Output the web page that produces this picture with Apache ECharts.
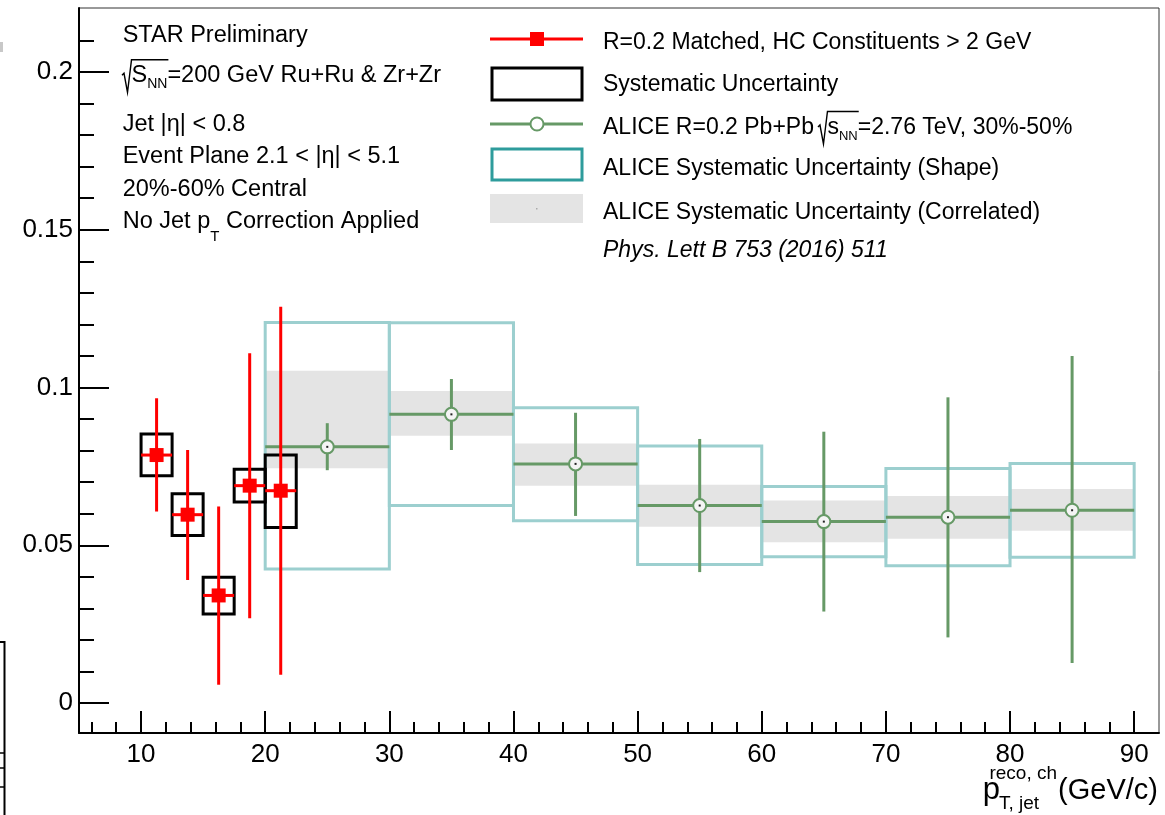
<!DOCTYPE html>
<html>
<head>
<meta charset="utf-8">
<script src="https://cdn.jsdelivr.net/npm/echarts@6/dist/echarts.min.js"></script>
<style>html,body{margin:0;padding:0;background:#fff}#c{width:1165px;height:815px}</style>
</head>
<body>
<div id="c"></div>
<script>
// ---------------- data ----------------
const starX       = [11.25, 13.75, 16.25, 18.75, 21.25];
const starXLo     = [10.0, 12.5, 15.0, 17.5, 20.0];
const starXHi     = [12.5, 15.0, 17.5, 20.0, 22.5];
const starY       = [0.0786, 0.0597, 0.0341, 0.0689, 0.0673];
const starStatLo  = [0.0607, 0.0390, 0.0058, 0.0269, 0.0090];
const starStatHi  = [0.0966, 0.0802, 0.0623, 0.1109, 0.1256];
const starSysLo   = [0.0720, 0.0531, 0.0282, 0.0637, 0.0556];
const starSysHi   = [0.0853, 0.0663, 0.0399, 0.0741, 0.0786];

const aliceBinLo   = [20, 30, 40, 50, 60, 70, 80];
const aliceBinHi   = [30, 40, 50, 60, 70, 80, 90];
const aliceX       = [25, 35, 45, 55, 65, 75, 85];
const aliceY       = [0.0812, 0.0915, 0.0758, 0.0626, 0.0575, 0.0589, 0.0611];
const aliceStatLo  = [0.0738, 0.0802, 0.0593, 0.0415, 0.0290, 0.0208, 0.0127];
const aliceStatHi  = [0.0887, 0.1027, 0.0920, 0.0837, 0.0860, 0.0969, 0.1100];
const aliceShapeLo = [0.0425, 0.0626, 0.0578, 0.0439, 0.0464, 0.0435, 0.0462];
const aliceShapeHi = [0.1206, 0.1205, 0.0936, 0.0815, 0.0686, 0.0743, 0.0759];
const aliceCorrLo  = [0.0744, 0.0847, 0.0689, 0.0559, 0.0510, 0.0521, 0.0546];
const aliceCorrHi  = [0.1053, 0.0989, 0.0823, 0.0692, 0.0642, 0.0656, 0.0678];

const xMajorTicks = [10, 20, 30, 40, 50, 60, 70, 80, 90];
const xMinorTicks = [6, 8, 12, 14, 16, 18, 22, 24, 26, 28, 32, 34, 36, 38, 42, 44, 46, 48,
                     52, 54, 56, 58, 62, 64, 66, 68, 72, 74, 76, 78, 82, 84, 86, 88];
const yMajorTicks = [0, 0.05, 0.1, 0.15, 0.2];
const yMinorTicks = [0.01, 0.02, 0.03, 0.04, 0.06, 0.07, 0.08, 0.09, 0.11, 0.12, 0.13, 0.14,
                     0.16, 0.17, 0.18, 0.19, 0.21];

// ---------------- styles ----------------
const FF = '"Liberation Sans", Arial, Helvetica, sans-serif';
const RED = '#ff0000', GREEN = '#669966', TEAL = '#9ccfcf', TEAL_LEG = '#2e9c9c', GRAY = '#e4e4e4';

const chart = echarts.init(document.getElementById('c'), null, {renderer: 'canvas'});

const ctx = document.createElement('canvas').getContext('2d');
function measure(t, size, style) {
  ctx.font = (style ? style + ' ' : '') + size + 'px ' + FF;
  return ctx.measureText(t).width;
}
function txt(x, baseline, t, size, opts) {
  opts = opts || {};
  return {
    type: 'text', x: x, y: baseline - 0.31 * size, z: 100,
    style: {text: t, fontSize: size, fontFamily: FF, fontStyle: opts.style || 'normal',
            fill: '#000', align: opts.align || 'left', verticalAlign: 'middle'}
  };
}
// parts: {t, s, dy, style} | {gap} | {radical: true, cover: [...]}
function run(x, baseline, parts, out) {
  let cx = x;
  parts.forEach(p => {
    if (p.gap) { cx += p.gap; return; }
    if (p.radical) {
      let w = 0;
      p.cover.forEach(q => { w += measure(q.t, q.s, q.style); });
      const rw = 9.5;
      out.push({type: 'polyline', z: 100, shape: {points: [
        [cx, baseline - 8], [cx + 2, baseline - 10], [cx + 5.5, baseline + 9],
        [cx + rw, baseline - 23.5], [cx + rw + w + 1, baseline - 23.5]]},
        style: {stroke: '#000', lineWidth: 1.4, fill: null}});
      cx += rw;
      return;
    }
    out.push(txt(cx, baseline + (p.dy || 0), p.t, p.s, {style: p.style}));
    cx += measure(p.t, p.s, p.style);
  });
  return cx;
}

const g = [];
// left column annotations
const LS = 23.5;
run(122.7, 43, [{t: 'STAR Preliminary', s: LS}], g);
const sPart = {t: 'S', s: LS}, nnPart = {t: 'NN', s: 14, dy: 5};
run(122, 83.3, [{radical: true, cover: [sPart, nnPart]}, sPart, nnPart,
                {t: '=200 GeV Ru+Ru & Zr+Zr', s: LS}], g);
run(122.7, 131.5, [{t: 'Jet |η| < 0.8', s: LS}], g);
run(122.7, 163.5, [{t: 'Event Plane 2.1 < |η| < 5.1', s: LS}], g);
run(122.7, 196.5, [{t: '20%-60% Central', s: LS}], g);
run(122.7, 229.2, [{t: 'No Jet p', s: LS}, {t: 'T', s: 15, dy: 12}, {t: ' Correction Applied', s: LS}], g);

// legend
const LX = 603;
run(LX, 50, [{t: 'R=0.2 Matched, HC Constituents > 2 GeV', s: 23}], g);
run(LX, 92, [{t: 'Systematic Uncertainty', s: 23}], g);
const sp2 = {t: 's', s: 23}, nn2 = {t: 'NN', s: 13, dy: 5};
run(LX, 135, [{t: 'ALICE R=0.2 Pb+Pb', s: 23}, {gap: 4}, {radical: true, cover: [sp2, nn2]}, sp2, nn2,
              {t: '=2.76 TeV, 30%-50%', s: 23}], g);
run(LX, 175.5, [{t: 'ALICE Systematic Uncertainty (Shape)', s: 23}], g);
run(LX, 219.5, [{t: 'ALICE Systematic Uncertainty (Correlated)', s: 23}], g);
run(LX, 258, [{t: 'Phys. Lett B 753 (2016) 511', s: 23, style: 'italic'}], g);

// legend symbols
g.push({type: 'line', z: 100, shape: {x1: 490, y1: 39, x2: 583, y2: 39}, style: {stroke: RED, lineWidth: 3}});
g.push({type: 'rect', z: 101, shape: {x: 530, y: 32, width: 14, height: 14}, style: {fill: RED}});
g.push({type: 'rect', z: 100, shape: {x: 492, y: 68, width: 90, height: 32}, style: {stroke: '#000', lineWidth: 3, fill: null}});
g.push({type: 'line', z: 100, shape: {x1: 490, y1: 124, x2: 583, y2: 124}, style: {stroke: GREEN, lineWidth: 3}});
g.push({type: 'circle', z: 101, shape: {cx: 537, cy: 124, r: 6.5}, style: {stroke: GREEN, lineWidth: 2, fill: '#fff'}});
g.push({type: 'rect', z: 100, shape: {x: 492, y: 149, width: 90, height: 31}, style: {stroke: TEAL_LEG, lineWidth: 3, fill: null}});
g.push({type: 'rect', z: 100, shape: {x: 490, y: 194, width: 93, height: 29}, style: {fill: GRAY}});
g.push({type: 'rect', z: 101, shape: {x: 536, y: 208, width: 1.5, height: 1.5}, style: {fill: '#aaa'}});

// x-axis title
g.push(txt(1158, 800, '(GeV/c)', 29, {align: 'right'}));
g.push(txt(1000, 800, 'p', 31, {align: 'right'}));
g.push(txt(1057, 780, 'reco, ch', 19, {align: 'right'}));
g.push(txt(999, 810, 'T, jet', 19));

// cropped neighbour artifacts at the left border
g.push({type: 'rect', z: 100, shape: {x: 0, y: 42, width: 3, height: 10}, style: {fill: '#c8c8c8'}});
g.push({type: 'polyline', z: 100, shape: {points: [[0, 642], [4.5, 642], [4.5, 815]]}, style: {stroke: '#000', lineWidth: 2, fill: null}});
[753, 768, 787].forEach(y => g.push({type: 'line', z: 100, shape: {x1: 0, y1: y, x2: 4.5, y2: y}, style: {stroke: '#000', lineWidth: 1.5}}));

// ---------------- series data ----------------
const corrData  = aliceX.map((x, i) => [aliceBinLo[i], aliceBinHi[i], aliceCorrLo[i], aliceCorrHi[i]]);
const shapeData = aliceX.map((x, i) => [aliceBinLo[i], aliceBinHi[i], aliceShapeLo[i], aliceShapeHi[i]]);
const aliceData = aliceX.map((x, i) => [x, aliceY[i], aliceBinLo[i], aliceBinHi[i], aliceStatLo[i], aliceStatHi[i]]);
const starSysData = starX.map((x, i) => [starXLo[i], starXHi[i], starSysLo[i], starSysHi[i]]);
const starData  = starX.map((x, i) => [x, starY[i], starXLo[i], starXHi[i], starStatLo[i], starStatHi[i]]);

function boxRender(fill, stroke, lw) {
  return function (params, api) {
    const p1 = api.coord([api.value(0), api.value(3)]);
    const p2 = api.coord([api.value(1), api.value(2)]);
    return {type: 'rect', shape: {x: p1[0], y: p1[1], width: p2[0] - p1[0], height: p2[1] - p1[1]},
            style: {fill: fill, stroke: stroke, lineWidth: lw}};
  };
}
function pointRender(color, marker) {
  return function (params, api) {
    const c = api.coord([api.value(0), api.value(1)]);
    const xl = api.coord([api.value(2), api.value(1)])[0];
    const xh = api.coord([api.value(3), api.value(1)])[0];
    const yl = api.coord([api.value(0), api.value(4)])[1];
    const yh = api.coord([api.value(0), api.value(5)])[1];
    const ch = [
      {type: 'line', shape: {x1: xl, y1: c[1], x2: xh, y2: c[1]}, style: {stroke: color, lineWidth: 3}},
      {type: 'line', shape: {x1: c[0], y1: yl, x2: c[0], y2: yh}, style: {stroke: color, lineWidth: 3}}
    ];
    if (marker === 'square') {
      ch.push({type: 'rect', shape: {x: c[0] - 7, y: c[1] - 7, width: 14, height: 14}, style: {fill: color}});
    } else {
      ch.push({type: 'circle', shape: {cx: c[0], cy: c[1], r: 6.5}, style: {fill: '#f4f4f4', stroke: color, lineWidth: 2}});
      ch.push({type: 'rect', shape: {x: c[0] - 1, y: c[1] - 1, width: 2, height: 2}, style: {fill: '#222'}});
    }
    return {type: 'group', children: ch};
  };
}

const axisFont = {fontSize: 26, color: '#000', fontFamily: FF};
const option = {
  animation: false,
  backgroundColor: '#ffffff',
  grid: {left: 79, right: 6, top: 8, bottom: 82, show: true, borderColor: '#333', borderWidth: 1, backgroundColor: 'transparent'},
  xAxis: [
    {type: 'value', min: 5, max: 92, position: 'bottom',
     axisLine: {show: true, onZero: false, lineStyle: {color: '#000', width: 2}},
     axisTick: {show: true, inside: true, length: 22, customValues: xMajorTicks, lineStyle: {color: '#000', width: 2}},
     axisLabel: Object.assign({customValues: xMajorTicks, margin: 9}, axisFont),
     splitLine: {show: false}},
    {type: 'value', min: 5, max: 92, position: 'bottom',
     axisLine: {show: false, onZero: false},
     axisTick: {show: true, inside: true, length: 11, customValues: xMinorTicks, lineStyle: {color: '#000', width: 2}},
     axisLabel: {show: false}, splitLine: {show: false}}
  ],
  yAxis: [
    {type: 'value', min: -0.0095, max: 0.2203, position: 'left',
     axisLine: {show: true, onZero: false, lineStyle: {color: '#000', width: 2}},
     axisTick: {show: true, inside: true, length: 30, customValues: yMajorTicks, lineStyle: {color: '#000', width: 2}},
     axisLabel: Object.assign({customValues: yMajorTicks, margin: 6}, axisFont),
     splitLine: {show: false}},
    {type: 'value', min: -0.0095, max: 0.2203, position: 'left',
     axisLine: {show: false, onZero: false},
     axisTick: {show: true, inside: true, length: 15, customValues: yMinorTicks, lineStyle: {color: '#000', width: 2}},
     axisLabel: {show: false}, splitLine: {show: false}}
  ],
  series: [
    {type: 'custom', name: 'ALICE corr', xAxisIndex: 0, yAxisIndex: 0, data: corrData,
     encode: {x: [0, 1], y: [2, 3]}, renderItem: boxRender(GRAY, null, 0), z: 1},
    {type: 'custom', name: 'ALICE shape', xAxisIndex: 0, yAxisIndex: 0, data: shapeData,
     encode: {x: [0, 1], y: [2, 3]}, renderItem: boxRender(null, TEAL, 3), z: 2},
    {type: 'custom', name: 'ALICE', xAxisIndex: 0, yAxisIndex: 0, data: aliceData,
     encode: {x: [0, 2, 3], y: [1, 4, 5]}, renderItem: pointRender(GREEN, 'circle'), z: 3},
    {type: 'custom', name: 'STAR sys', xAxisIndex: 0, yAxisIndex: 0, data: starSysData,
     encode: {x: [0, 1], y: [2, 3]}, renderItem: boxRender(null, '#000', 3), z: 4},
    {type: 'custom', name: 'STAR', xAxisIndex: 0, yAxisIndex: 0, data: starData,
     encode: {x: [0, 2, 3], y: [1, 4, 5]}, renderItem: pointRender(RED, 'square'), z: 5}
  ],
  graphic: {elements: g}
};
chart.setOption(option);
</script>
</body>
</html>
